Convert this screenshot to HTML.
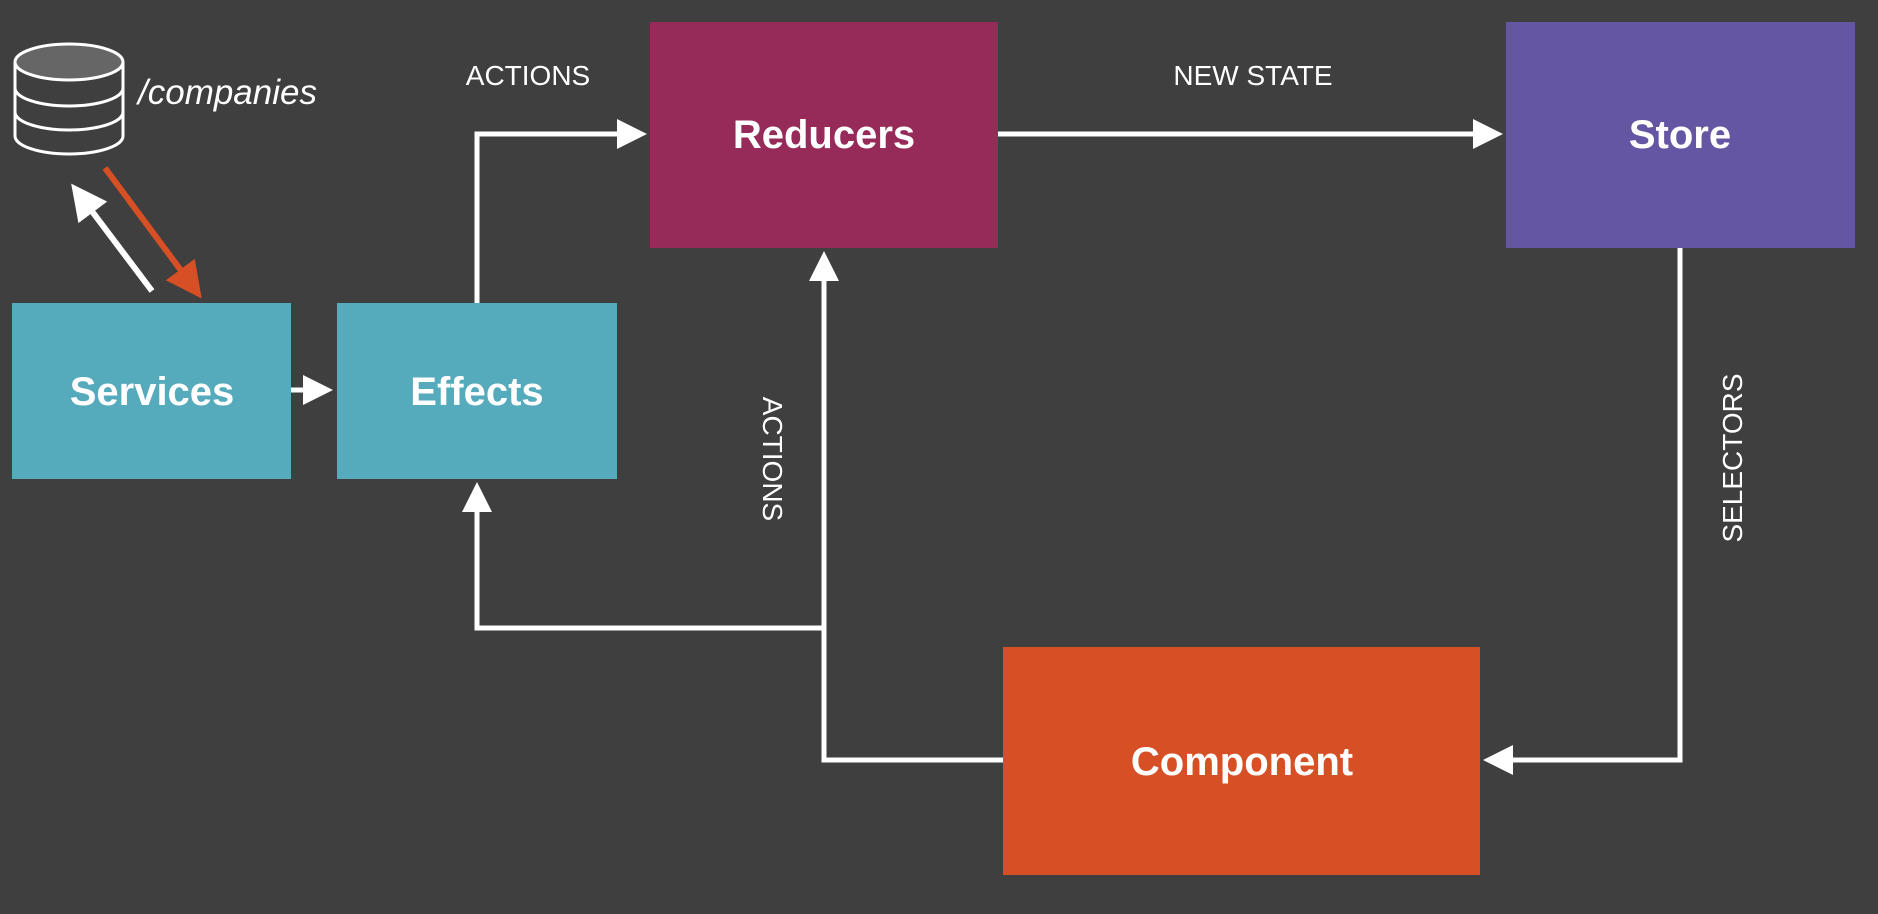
<!DOCTYPE html>
<html><head><style>
html,body{margin:0;padding:0;background:#3f3f3f;}
</style></head><body>
<svg width="1878" height="914" xmlns="http://www.w3.org/2000/svg" style="display:block">
<rect width="1878" height="914" fill="#3f3f3f"/>
<defs>
<marker id="w" markerWidth="6" markerHeight="6" refX="3" refY="3" orient="auto" markerUnits="strokeWidth"><path d="M0,0 L6,3 L0,6 z" fill="#fff"/></marker>
<marker id="o" markerWidth="6" markerHeight="6" refX="3" refY="3" orient="auto" markerUnits="strokeWidth"><path d="M0,0 L6,3 L0,6 z" fill="#d75025"/></marker>
</defs>
<!-- DB icon -->
<g fill="none" stroke="#fff" stroke-width="3">
<ellipse cx="69" cy="62" rx="54" ry="18" fill="#666"/>
<path d="M15,62 V136 A54,18 0 0 0 123,136 V62"/>
<path d="M15,88 A54,18 0 0 0 123,88"/>
<path d="M15,112 A54,18 0 0 0 123,112"/>
</g>
<text x="138" y="104" fill="#fff" font-family="Liberation Sans, sans-serif" font-style="italic" font-size="35">/companies</text>
<!-- diagonal arrows -->
<line x1="152" y1="291" x2="82" y2="198" stroke="#fff" stroke-width="6" marker-end="url(#w)"/>
<line x1="105" y1="168" x2="191" y2="284" stroke="#d75025" stroke-width="6" marker-end="url(#o)"/>
<!-- boxes -->
<rect x="12" y="303" width="279" height="176" fill="#55aabb"/>
<rect x="337" y="303" width="280" height="176" fill="#55aabb"/>
<rect x="650" y="22" width="348" height="226" fill="#962a58"/>
<rect x="1506" y="22" width="349" height="226" fill="#6556a3"/>
<rect x="1003" y="647" width="477" height="228" fill="#d75025"/>
<g font-family="Liberation Sans, sans-serif" font-weight="bold" font-size="40" fill="#fff" text-anchor="middle">
<text x="152" y="405">Services</text>
<text x="477" y="405">Effects</text>
<text x="824" y="148">Reducers</text>
<text x="1680" y="148">Store</text>
<text x="1242" y="775">Component</text>
</g>
<!-- connectors -->
<g fill="none" stroke="#fff" stroke-width="5">
<line x1="291" y1="390" x2="318" y2="390" marker-end="url(#w)"/>
<polyline points="477,303 477,134 632,134" marker-end="url(#w)"/>
<line x1="998" y1="134" x2="1488" y2="134" marker-end="url(#w)"/>
<polyline points="1680,248 1680,760 1498,760" marker-end="url(#w)"/>
<polyline points="1003,760 824,760 824,266" marker-end="url(#w)"/>
<polyline points="824,628 477,628 477,497" marker-end="url(#w)"/>
</g>
<g font-family="Liberation Sans, sans-serif" font-size="28" fill="#fff" text-anchor="middle">
<text x="528" y="85">ACTIONS</text>
<text x="1253" y="85">NEW STATE</text>
<text transform="translate(763,459) rotate(90)">ACTIONS</text>
<text transform="translate(1742,458) rotate(-90)">SELECTORS</text>
</g>
</svg>
</body></html>
